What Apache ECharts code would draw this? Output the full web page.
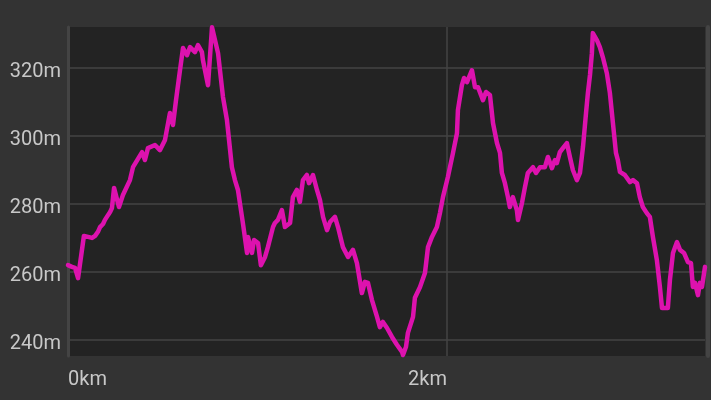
<!DOCTYPE html>
<html>
<head>
<meta charset="utf-8">
<script src="https://cdn.jsdelivr.net/npm/echarts@6/dist/echarts.min.js"></script>
<style>
html,body{margin:0;padding:0;background:#333333;}
#c{width:711px;height:400px;}
</style>
</head>
<body>
<div id="c"></div>
<script>
const distKm = [0,0.021,0.037,0.053,0.084,0.106,0.127,0.143,0.158,0.169,0.185,0.195,0.211,0.222,0.232,0.243,0.269,0.290,0.327,0.343,0.391,0.406,0.422,0.459,0.485,0.512,0.538,0.554,0.570,0.591,0.607,0.628,0.644,0.670,0.686,0.707,0.712,0.739,0.760,0.776,0.792,0.818,0.839,0.865,0.881,0.897,0.923,0.945,0.950,0.971,0.982,1.003,1.018,1.040,1.055,1.082,1.092,1.108,1.129,1.145,1.172,1.187,1.208,1.224,1.240,1.261,1.272,1.293,1.314,1.330,1.346,1.367,1.383,1.409,1.425,1.451,1.478,1.504,1.525,1.551,1.567,1.583,1.604,1.631,1.646,1.662,1.683,1.710,1.736,1.763,1.768,1.784,1.794,1.821,1.831,1.858,1.884,1.900,1.921,1.947,1.963,1.979,2.005,2.032,2.053,2.058,2.079,2.090,2.106,2.132,2.148,2.164,2.190,2.206,2.227,2.243,2.264,2.280,2.290,2.306,2.322,2.332,2.348,2.369,2.375,2.396,2.412,2.427,2.454,2.470,2.491,2.517,2.533,2.554,2.570,2.580,2.596,2.612,2.633,2.649,2.665,2.686,2.702,2.718,2.734,2.744,2.755,2.765,2.770,2.792,2.807,2.823,2.844,2.860,2.876,2.892,2.902,2.913,2.939,2.966,2.982,3.003,3.018,3.034,3.055,3.071,3.087,3.108,3.124,3.135,3.166,3.177,3.193,3.214,3.230,3.251,3.272,3.288,3.298,3.309,3.325,3.335,3.346,3.362];
const elevM = [262.0,261.5,261.2,258.2,270.6,270.3,270.0,270.6,271.8,273.2,274.1,275.3,276.7,277.6,278.8,284.7,279.1,282.6,287.0,290.8,295.2,292.9,296.4,297.3,295.8,298.8,306.7,303.2,310.5,319.3,325.8,323.7,326.1,324.6,326.7,324.6,322.3,314.9,331.9,328.1,324.3,311.4,304.6,290.8,287.0,284.1,274.4,265.6,270.3,265.6,269.4,268.5,262.0,264.4,267.3,273.2,274.4,275.3,278.2,273.2,274.4,282.0,284.1,280.6,287.0,288.5,286.1,288.5,284.1,281.1,276.2,272.3,274.7,276.2,273.2,267.3,264.4,266.5,262.6,253.8,257.1,256.8,251.8,246.8,243.8,245.3,243.6,240.9,238.6,236.5,235.6,238.0,242.1,246.8,252.4,255.6,259.7,267.3,270.3,273.2,277.3,282.0,287.9,295.0,300.8,307.6,314.9,317.0,315.8,319.3,314.3,314.3,310.5,312.9,312.0,303.8,297.9,295.0,289.1,286.1,282.0,279.1,282.0,278.2,275.3,280.3,285.0,289.1,290.8,289.1,290.8,290.8,293.8,290.5,292.9,292.0,295.2,296.4,297.9,293.8,289.9,287.0,289.1,296.7,306.7,312.6,317.9,324.3,330.2,328.1,326.1,323.1,318.4,312.6,303.8,295.0,292.9,289.4,288.5,286.4,287.0,286.1,282.0,279.1,277.3,276.2,270.3,263.5,255.6,249.4,249.4,257.7,265.6,268.8,266.5,265.6,262.9,262.6,255.6,256.8,253.2,256.8,255.6,261.5];
const xTickStepKm = 2;
const xMaxKm = 3.362;
const yMinM = 235.3;
const yMaxM = 332;

const points = distKm.map((d, i) => [d, elevM[i]]);

const chart = echarts.init(document.getElementById('c'), null, {renderer: 'canvas'});
const labelFont = {fontFamily: 'Roboto', fontSize: 20, color: '#c8c8c8'};
chart.setOption({
  backgroundColor: '#333333',
  animation: false,
  grid: {left: 68, right: 6, top: 27, bottom: 44, show: true, backgroundColor: '#232323', borderWidth: 0},
  xAxis: {
    type: 'value', min: 0, max: xMaxKm, interval: xTickStepKm,
    axisLine: {show: false}, axisTick: {show: false},
    axisLabel: Object.assign({}, labelFont, {
      formatter: v => v + 'km', align: 'right', alignMinLabel: 'left',
      showMaxLabel: false, margin: 14
    }),
    splitLine: {show: true, showMinLine: false, showMaxLine: false, lineStyle: {color: '#444444', width: 1.5}}
  },
  yAxis: [{
    type: 'value', min: yMinM, max: yMaxM, splitNumber: 5, minInterval: 20, maxInterval: 20,
    offset: 1.5,
    axisLine: {show: true, lineStyle: {color: '#444444', width: 3}},
    axisTick: {show: false},
    axisLabel: Object.assign({}, labelFont, {
      formatter: v => v + 'm', showMinLabel: false, showMaxLabel: false,
      margin: 5.5, verticalAlign: 'top', padding: [-6, 0, 0, 0]
    }),
    splitLine: {show: true, showMinLine: false, showMaxLine: false, lineStyle: {color: '#444444', width: 1.5}}
  }, {
    type: 'value', position: 'right', min: yMinM, max: yMaxM, offset: 3,
    axisLine: {show: true, lineStyle: {color: '#444444', width: 4}},
    axisTick: {show: false}, axisLabel: {show: false}, splitLine: {show: false}
  }],
  series: [{
    type: 'line', data: points, showSymbol: false, symbol: 'none',
    lineStyle: {color: '#dd12ae', width: 4.5, join: 'round', cap: 'round'},
    clip: true
  }]
});
</script>
</body>
</html>
